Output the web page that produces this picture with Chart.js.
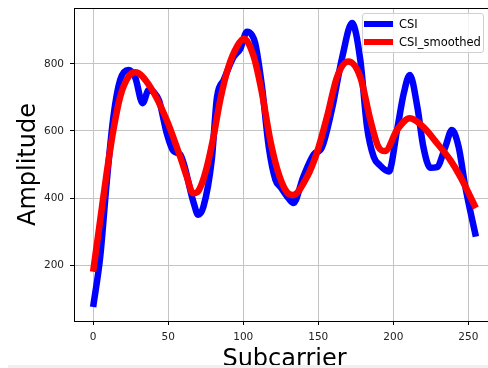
<!DOCTYPE html>
<html lang="en">
<head>
<meta charset="UTF-8">
<title>CSI</title>
<script src="https://cdn.jsdelivr.net/npm/chart.js"></script>
<style>
    body { margin: 0; background: #fff; overflow: hidden; font-family: "DejaVu Sans", sans-serif; }
    .wrap { position: relative; width: 488px; height: 368px; overflow: hidden; }
    #legenda { position: absolute; left: 362px; top: 13px; width: 120px; height: 38px; border: 1px solid #d0d0d0; border-radius: 3px; background: rgba(255,255,255,0.8); }
    .item { position: absolute; left: 0; height: 18px; display: flex; align-items: center; font-size: 11.5px; color: #000; white-space: nowrap; }
    .linha { display: inline-block; width: 29px; height: 6px; margin-left: 1px; margin-right: 6px; }
    .faixa { position: absolute; left: 8px; right: 0; top: 365px; height: 3px; background: #f0f0f0; }
</style>
</head>
<body>
<div class="wrap">
    <canvas id="grafico" width="500" height="374"></canvas>
    <div id="legenda"></div>
    <div class="faixa"></div>
</div>
<script>
// values
const csiX = [0, 4.7, 9, 13.5, 18, 23.5, 28, 33, 37, 41, 44, 49, 53.5, 58, 61, 64.7, 67, 70, 73.5, 79, 82.5, 87, 93.5, 98, 102.5, 106, 108, 112.5, 117, 121.5, 125, 130, 133.5, 140, 147, 152.5, 159, 166, 172.5, 178, 182.5, 187, 191, 197, 202.5, 207, 211, 216, 220, 224.7, 229, 234.7, 239, 243.5, 248, 255];
const csiY = [75, 224, 445, 642, 752, 782, 760, 683, 722, 713, 690, 594, 540, 530, 493, 424, 385, 350, 374, 513, 700, 752, 820, 845, 896, 885, 862, 732, 553, 454, 432, 400, 385, 463, 530, 552, 663, 821, 922, 812, 612, 522, 498, 479, 603, 713, 767, 672, 553, 490, 492, 553, 603, 553, 433, 285];

const smoothX = [0, 4.7, 9, 13.5, 18, 23.5, 28, 38, 49, 58, 62.5, 66.5, 69.5, 72, 75.8, 80.2, 84.7, 90.2, 95.8, 100.5, 107, 112.5, 118, 123.5, 129, 133, 142.5, 149, 155.8, 162.5, 170, 178, 184.7, 190, 194.5, 202.5, 211, 220, 229, 238, 244.7, 255];
const smoothY = [180, 334, 474, 603, 702, 762, 775, 732, 633, 523, 462, 414, 418, 438, 493, 583, 693, 792, 852, 875, 822, 713, 573, 474, 418, 409, 463, 534, 642, 761, 807, 761, 633, 553, 540, 603, 638, 612, 564, 513, 463, 370];

const xTicks = [0, 50, 100, 150, 200, 250];
const yTicks = [200, 400, 600, 800];

function pontos(xs, ys) {
    let lista = [];
    for (let i = 0; i < xs.length; i++) {
        lista.push({ x: xs[i], y: ys[i] });
    }
    return lista;
}

// top spine like matplotlib
const molduraTopo = {
    id: 'molduraTopo',
    afterDraw(chart) {
        const { ctx, chartArea } = chart;
        ctx.save();
        ctx.strokeStyle = '#000';
        ctx.lineWidth = 1;
        ctx.beginPath();
        ctx.moveTo(chartArea.left, chartArea.top + 0.5);
        ctx.lineTo(chartArea.right, chartArea.top + 0.5);
        ctx.stroke();
        ctx.restore();
    }
};

function semPadding(scale) {
    scale.paddingTop = 0;
    scale.paddingBottom = 0;
    scale.paddingLeft = 0;
    scale.paddingRight = 0;
}

const fonteTicks = { family: 'DejaVu Sans', size: 10.5 };
const fonteTitulo = { family: 'DejaVu Sans', size: 24 };

let ctx = document.getElementById('grafico');
let grafico = new Chart(ctx, {
    type: 'line',
    data: {
        datasets: [{
            label: 'CSI',
            data: pontos(csiX, csiY),
            borderColor: '#0000ff',
            borderWidth: 6.5,
            pointRadius: 0,
            cubicInterpolationMode: 'monotone',
            borderJoinStyle: 'round',
            order: 2
        }, {
            label: 'CSI_smoothed',
            data: pontos(smoothX, smoothY),
            borderColor: '#ff0000',
            borderWidth: 6.5,
            pointRadius: 0,
            cubicInterpolationMode: 'monotone',
            borderJoinStyle: 'round',
            order: 1
        }]
    },
    options: {
        responsive: false,
        animation: false,
        layout: { padding: { left: 0, top: 8, right: 5, bottom: 0 } },
        plugins: {
            legend: { display: false },
            tooltip: { enabled: false }
        },
        scales: {
            x: {
                type: 'linear',
                min: -12.75,
                max: 267.75,
                afterBuildTicks: scale => { scale.ticks = xTicks.map(v => ({ value: v })); },
                afterFit: scale => { scale.height = 53; semPadding(scale); },
                ticks: { font: fonteTicks, color: '#222', padding: 6, maxRotation: 0 },
                grid: { color: '#c4c4c4', lineWidth: 1, tickLength: 4, tickColor: '#000' },
                border: { color: '#000', width: 1 },
                title: { display: true, text: 'Subcarrier', font: fonteTitulo, color: '#000', padding: { top: 0, bottom: 0 } }
            },
            y: {
                min: 33,
                max: 967,
                afterBuildTicks: scale => { scale.ticks = yTicks.map(v => ({ value: v })); },
                afterFit: scale => { scale.width = 74; semPadding(scale); },
                ticks: { font: fonteTicks, color: '#222', padding: 6 },
                grid: { color: '#c4c4c4', lineWidth: 1, tickLength: 4, tickColor: '#000' },
                border: { color: '#000', width: 1 },
                title: { display: true, text: 'Amplitude', font: fonteTitulo, color: '#000', padding: { top: 14, bottom: 0 } }
            }
        }
    },
    plugins: [molduraTopo]
});

// legend box inside the plot, top right
let legenda = document.getElementById('legenda');
grafico.data.datasets.forEach((ds, i) => {
    let item = document.createElement('div');
    item.className = 'item';
    item.style.top = (1 + i * 18) + 'px';
    item.innerHTML = '<span class="linha" style="background:' + ds.borderColor + '"></span>' + ds.label;
    legenda.appendChild(item);
});
</script>
</body>
</html>
